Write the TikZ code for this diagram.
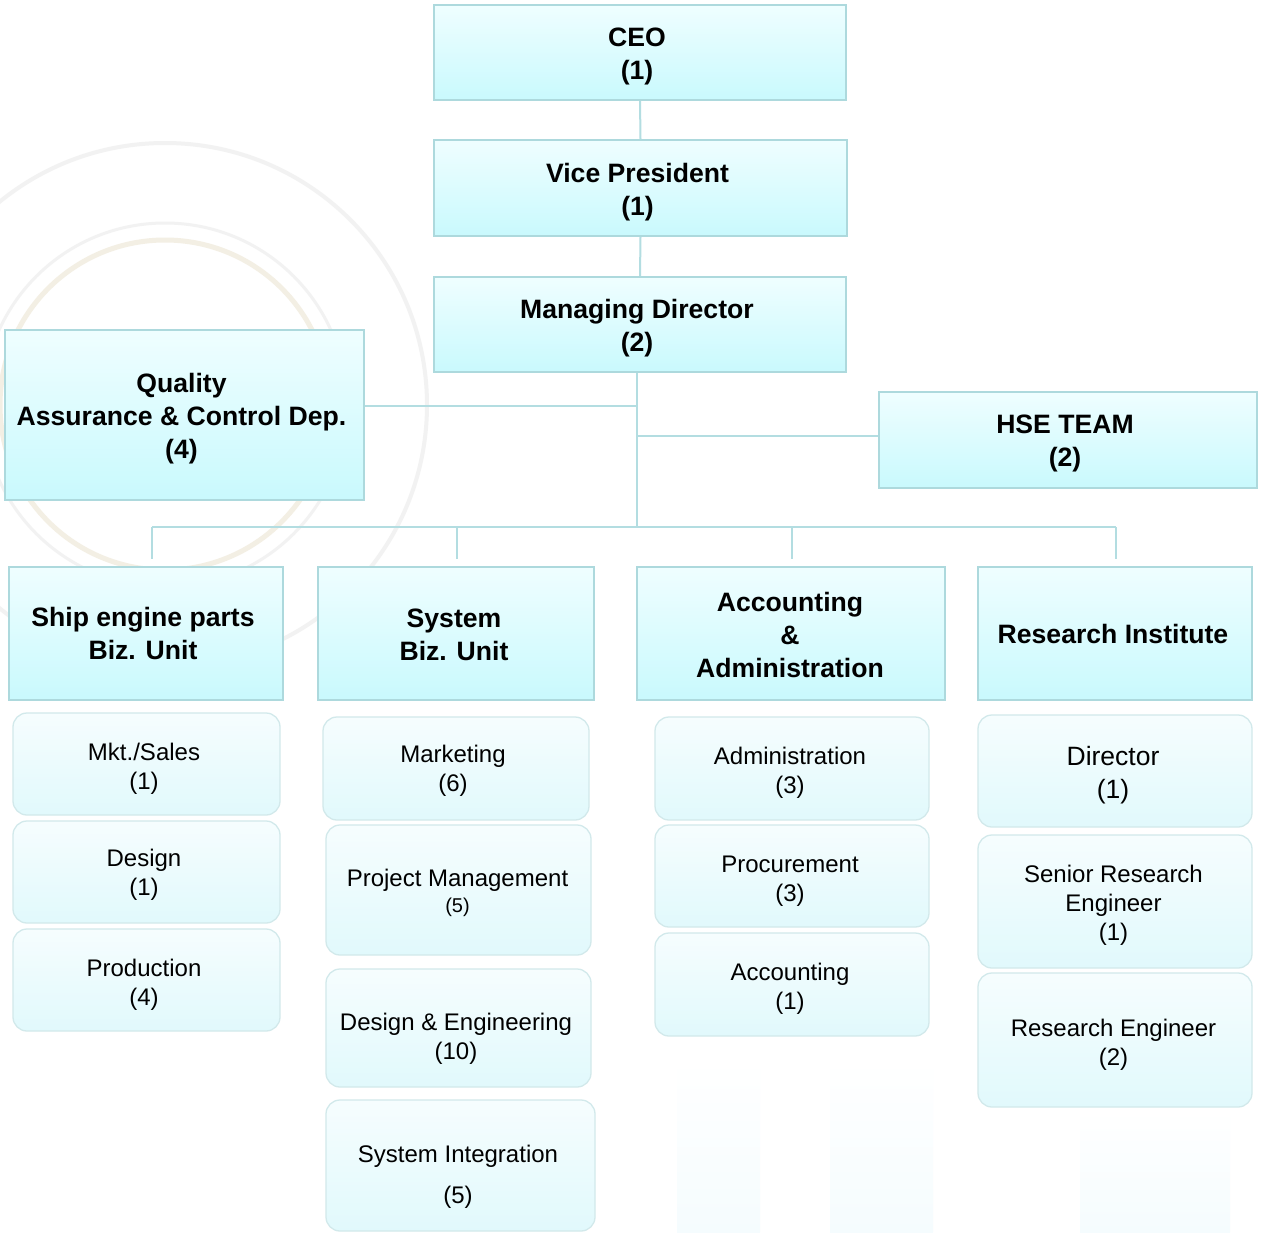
\documentclass[tikz,border=0pt]{standalone}
\usepackage{fontspec}
\setmainfont{Liberation Sans}
\begin{document}
\begin{tikzpicture}[x=1pt,y=-1pt,
  conn/.style={draw=connc,line width=2pt},
  topbox/.style={rectangle,draw=bordc,line width=1.6pt,top color=topc,bottom color=botc,inner sep=0pt},
  subbox/.style={rectangle,rounded corners=14pt,draw=subbord,line width=1.3pt,top color=subtop,bottom color=subbot,inner sep=0pt},
  toptxt/.style={align=center,inner sep=0pt,font=\fontsize{26.6}{33}\selectfont\bfseries},
  subtxt/.style={align=center,inner sep=0pt,font=\fontsize{24}{29}\selectfont},
]
\definecolor{connc}{HTML}{B3DDE1}
\definecolor{bordc}{HTML}{ADD9DD}
\definecolor{topc}{HTML}{EFFEFF}
\definecolor{botc}{HTML}{C9F9FD}
\definecolor{subbord}{HTML}{D2E9EB}
\definecolor{subtop}{HTML}{F6FDFE}
\definecolor{subbot}{HTML}{E1F9FC}
\definecolor{wmbeige}{HTML}{F3EFE4}
\definecolor{wmgray}{HTML}{F2F2F2}
\definecolor{wmcyan}{HTML}{F5FCFE}
% canvas
\path[fill=white] (0,0) rectangle (1261,1232);
\useasboundingbox (0,0) rectangle (1261,1232);
% faint watermark
\draw[wmgray,line width=4pt] (165,405) circle (262);
\draw[wmgray,line width=3pt] (165,405) circle (182);
\draw[wmbeige,line width=5pt] (165,405) circle (165);
\shade[top color=white,bottom color=wmcyan] (677,1060) rectangle (760,1232);
\shade[top color=white,bottom color=wmcyan] (830,1060) rectangle (933,1232);
\shade[top color=white,bottom color=wmcyan] (1080,1110) rectangle (1230,1232);
% top chain
\node[topbox,minimum width=412pt,minimum height=95pt] (ceo) at (640,52.5) {};
\node[topbox,minimum width=413pt,minimum height=96pt] (vp) at (640.5,188) {};
\node[topbox,minimum width=412pt,minimum height=95pt] (md) at (640,324.5) {};
\node[topbox,minimum width=359pt,minimum height=170pt] (qa) at (184.5,415) {};
\node[topbox,minimum width=378pt,minimum height=96pt] (hse) at (1068,440) {};
\node[toptxt] (ceo-t) at ([shift={(-3pt,-4pt)}]ceo.center) {CEO\\(1)};
\node[toptxt] (vp-t) at ([shift={(-3pt,-4pt)}]vp.center) {Vice President\\(1)};
\node[toptxt] (md-t) at ([shift={(-3pt,-4pt)}]md.center) {Managing Director\\(2)};
\node[toptxt] (qa-t) at ([shift={(-3pt,-4pt)}]qa.center) {Quality\\Assurance \& Control Dep.\\(4)};
\node[toptxt] (hse-t) at ([shift={(-3pt,-3pt)}]hse.center) {HSE TEAM\\(2)};
% level 2
\node[topbox,minimum width=274pt,minimum height=133pt] (ship) at (146,633.5) {};
\node[topbox,minimum width=276pt,minimum height=133pt] (sys) at (456,633.5) {};
\node[topbox,minimum width=308pt,minimum height=133pt] (acc) at (791,633.5) {};
\node[topbox,minimum width=274pt,minimum height=133pt] (res) at (1115,633.5) {};
\node[toptxt] (ship-t) at ([shift={(-3pt,0pt)}]ship.center) {Ship engine parts\\Biz. Unit};
\node[toptxt] (sys-t) at ([shift={(-2pt,-1pt)}]sys.center) {System\\Biz. Unit};
\node[toptxt] (acc-t) at ([shift={(-1pt,-1pt)}]acc.center) {Accounting\\\&\\Administration};
\node[toptxt] (res-t) at ([shift={(-2pt,0pt)}]res.center) {Research Institute};
% col 1
\node[subbox,minimum width=267pt,minimum height=102pt] (mkt) at (146.5,764) {};
\node[subbox,minimum width=267pt,minimum height=102pt] (des) at (146.5,872) {};
\node[subbox,minimum width=267pt,minimum height=102pt] (prod) at (146.5,980) {};
\node[subtxt] (mkt-t) at ([shift={(-2.5pt,-5pt)}]mkt.center) {Mkt./Sales\\(1)};
\node[subtxt] (des-t) at ([shift={(-2.5pt,-3pt)}]des.center) {Design\\(1)};
\node[subtxt] (prod-t) at ([shift={(-2.5pt,-5pt)}]prod.center) {Production\\(4)};
% col 2
\node[subbox,minimum width=266pt,minimum height=103pt] (mark) at (456,768.5) {};
\node[subbox,minimum width=265pt,minimum height=130pt] (pm) at (458.5,890) {};
\node[subbox,minimum width=265pt,minimum height=118pt] (de) at (458.5,1028) {};
\node[subbox,minimum width=269pt,minimum height=131pt] (si) at (460.5,1165.5) {};
\node[subtxt] (mark-t) at ([shift={(-3pt,-2pt)}]mark.center) {Marketing\\(6)};
\node[subtxt] (pm-t) at ([shift={(-1pt,-3pt)}]pm.center) {Project Management\\[-3pt]{\fontsize{20}{24}\selectfont(5)}};
\node[subtxt] (de-t) at ([shift={(-2.5pt,-11pt)}]de.center) {Design \& Engineering\\(10)};
\node[subtxt] (si-t) at ([shift={(-2.5pt,-11pt)}]si.center) {System Integration\\[12pt](5)};
% col 3
\node[subbox,minimum width=274pt,minimum height=103pt] (adm) at (792,768.5) {};
\node[subbox,minimum width=274pt,minimum height=102pt] (proc) at (792,876) {};
\node[subbox,minimum width=274pt,minimum height=103pt] (acct) at (792,984.5) {};
\node[subtxt] (adm-t) at ([shift={(-2pt,-4pt)}]adm.center) {Administration\\(3)};
\node[subtxt] (proc-t) at ([shift={(-2pt,-5pt)}]proc.center) {Procurement\\(3)};
\node[subtxt] (acct-t) at ([shift={(-2pt,-4pt)}]acct.center) {Accounting\\(1)};
% col 4
\node[subbox,minimum width=274pt,minimum height=112pt] (dir) at (1115,771) {};
\node[subbox,minimum width=274pt,minimum height=133pt] (sre) at (1115,901.5) {};
\node[subbox,minimum width=274pt,minimum height=134pt] (re) at (1115,1040) {};
\node[subtxt,font=\fontsize{26.5}{33}\selectfont] (dir-t) at ([shift={(-2pt,-4pt)}]dir.center) {Director\\(1)};
\node[subtxt] (sre-t) at ([shift={(-1.5pt,-4pt)}]sre.center) {Senior Research\\Engineer\\(1)};
\node[subtxt] (re-t) at ([shift={(-1.5pt,-5pt)}]re.center) {Research Engineer\\(2)};
% connectors
\coordinate (bus) at (637,527);
\coordinate (qaj) at (637,406);
\coordinate (hsej) at (637,436);
\coordinate (d1) at (152,527);
\coordinate (d2) at (457,527);
\coordinate (d3) at (792,527);
\coordinate (d4) at (1116,527);
\draw[conn] (ceo.south) -- (vp.north);
\draw[conn] (vp.south) -- (md.north);
\draw[conn] (md.south -| bus) -- (bus);
\draw[conn] (qa.east |- qaj) -- (qaj);
\draw[conn] (hsej) -- (hse.west |- hsej);
\draw[conn] (d1) -- (d4);
\draw[conn] (d1) -- ([yshift=7pt]d1 |- ship.north);
\draw[conn] (d2) -- ([yshift=7pt]d2 |- sys.north);
\draw[conn] (d3) -- ([yshift=7pt]d3 |- acc.north);
\draw[conn] (d4) -- ([yshift=7pt]d4 |- res.north);
\end{tikzpicture}
\end{document}
